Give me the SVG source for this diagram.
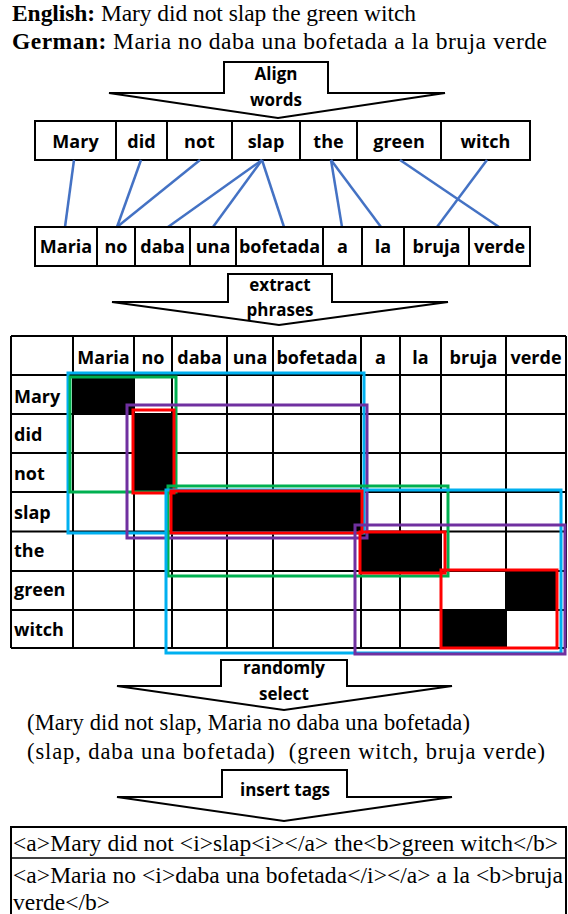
<svg xmlns="http://www.w3.org/2000/svg" width="568" height="914" viewBox="0 0 568 914">
  <style>
    .serif { font-family: "Liberation Serif", "Times New Roman", serif; font-size: 22.5px; fill: #000; white-space: pre; }
    .head { font-size: 23.5px; }
    .lbl { font-family: "Open Sans", "Liberation Sans", sans-serif; font-weight: 700; font-size: 18px; fill: #000; }
    .alab { font-family: "Open Sans", "Liberation Sans", sans-serif; font-weight: 700; font-size: 17px; fill: #000; text-anchor: middle; }
    .mid { text-anchor: middle; }
    .box { fill: #fff; stroke: #000; stroke-width: 2; }
    .arrow { fill: #fff; stroke: #000; stroke-width: 2; stroke-linejoin: miter; }
    .align { stroke: #4472C4; stroke-width: 2.5; fill: none; }
    .grid { stroke: #000; stroke-width: 2; fill: none; }
    .cell { fill: #000; }
    .span { fill: none; stroke-width: 3; }
    .blue { stroke: #00B0F0; }
    .green { stroke: #00B050; }
    .purple { stroke: #7030A0; }
    .red { stroke: #FF0000; }
  </style>

  <!-- sentence pair -->
  <g id="sentences">
    <text class="serif head" x="12" y="21" textLength="404" lengthAdjust="spacing"><tspan font-weight="700">English:</tspan> Mary did not slap the green witch</text>
    <text class="serif head" x="12" y="49" textLength="535" lengthAdjust="spacing"><tspan font-weight="700">German:</tspan> Maria no daba una bofetada a la bruja verde</text>
  </g>

  <!-- step arrow: align words -->
  <g id="step-align">
    <path class="arrow" d="M109,93 L224,93 L224,62 L328,62 L328,93 L445,93 L278,118 Z"/>
    <text class="alab" x="276" y="80">Align</text>
    <text class="alab" x="276" y="106">words</text>
  </g>

  <!-- English tokens -->
  <g id="english-tokens">
    <rect class="box" x="35" y="121" width="495" height="39"/>
    <path class="grid" d="M116,121V160 M167,121V160 M232,121V160 M300,121V160 M357,121V160 M441,121V160"/>
    <g class="lbl mid">
      <text x="75.5" y="148">Mary</text>
      <text x="141.5" y="148">did</text>
      <text x="199.5" y="148">not</text>
      <text x="266" y="148">slap</text>
      <text x="328.5" y="148">the</text>
      <text x="399" y="148">green</text>
      <text x="485.5" y="148">witch</text>
    </g>
  </g>

  <!-- word alignment links -->
  <g id="alignment-links" class="align">
    <line x1="74" y1="160" x2="65" y2="227"/>
    <line x1="141" y1="160" x2="117" y2="227"/>
    <line x1="200" y1="160" x2="117" y2="227"/>
    <line x1="262" y1="160" x2="168" y2="227"/>
    <line x1="262" y1="160" x2="213" y2="227"/>
    <line x1="262" y1="160" x2="284" y2="227"/>
    <line x1="331" y1="160" x2="342" y2="227"/>
    <line x1="331" y1="160" x2="381" y2="227"/>
    <line x1="400" y1="160" x2="499" y2="227"/>
    <line x1="487" y1="160" x2="437" y2="227"/>
  </g>

  <!-- Spanish tokens -->
  <g id="spanish-tokens">
    <rect class="box" x="35" y="227" width="495" height="39"/>
    <path class="grid" d="M97,227V266 M135,227V266 M190,227V266 M236,227V266 M323,227V266 M362,227V266 M404,227V266 M469,227V266"/>
    <g class="lbl mid">
      <text x="66" y="253">Maria</text>
      <text x="116" y="253">no</text>
      <text x="162.5" y="253">daba</text>
      <text x="213" y="253">una</text>
      <text x="279.5" y="253">bofetada</text>
      <text x="342.5" y="253">a</text>
      <text x="383" y="253">la</text>
      <text x="436.5" y="253">bruja</text>
      <text x="499.5" y="253">verde</text>
    </g>
  </g>

  <!-- step arrow: extract phrases -->
  <g id="step-extract">
    <path class="arrow" d="M112,302 L228,302 L228,274 L332,274 L332,302 L448,302 L279,325 Z"/>
    <text class="alab" x="280" y="291">extract</text>
    <text class="alab" x="280" y="316">phrases</text>
  </g>

  <!-- alignment matrix -->
  <g id="matrix">
    <rect x="11" y="336" width="555" height="312" fill="#fff"/>
    <g id="matrix-cells">
      <rect class="cell" x="73" y="375" width="61" height="39"/>
      <rect class="cell" x="134" y="414" width="38" height="78"/>
      <rect class="cell" x="172" y="492" width="189" height="39.5"/>
      <rect class="cell" x="361" y="531.5" width="80" height="39.5"/>
      <rect class="cell" x="506" y="571" width="51" height="39"/>
      <rect class="cell" x="441" y="610" width="65" height="38"/>
    </g>
    <path class="grid" d="M11,336H566 M11,375H566 M11,414H566 M11,453H566 M11,492H566 M11,531.5H566 M11,571H566 M11,610H566 M11,648H566
      M11,336V648 M73,336V648 M134,336V648 M172,336V648 M227,336V648 M273,336V648 M361,336V648 M400,336V648 M441,336V648 M506,336V648 M566,336V648"/>
    <g class="lbl mid">
      <text x="103.5" y="364">Maria</text>
      <text x="153" y="364">no</text>
      <text x="199.5" y="364">daba</text>
      <text x="250" y="364">una</text>
      <text x="317" y="364">bofetada</text>
      <text x="380.5" y="364">a</text>
      <text x="420.5" y="364">la</text>
      <text x="473.5" y="364">bruja</text>
      <text x="536" y="364">verde</text>
    </g>
    <g class="lbl">
      <text x="14" y="403">Mary</text>
      <text x="14" y="441">did</text>
      <text x="14" y="480">not</text>
      <text x="14" y="519">slap</text>
      <text x="14" y="557">the</text>
      <text x="14" y="596">green</text>
      <text x="14" y="636">witch</text>
    </g>
  </g>

  <!-- extracted phrase spans -->
  <g id="phrase-spans">
    <rect class="span blue" x="68" y="373" width="296" height="160"/>
    <rect class="span green" x="70" y="377" width="106" height="115"/>
    <rect class="span purple" x="127" y="405" width="240" height="133"/>
    <rect class="span red" x="133" y="410" width="41" height="83"/>
    <rect class="span green" x="168" y="486" width="280" height="90"/>
    <rect class="span blue" x="166" y="490" width="395" height="163"/>
    <rect class="span red" x="171" y="491" width="191" height="42" stroke-width="2"/>
    <rect class="span purple" x="355" y="525" width="210" height="129"/>
    <rect class="span red" x="360" y="532" width="85" height="41"/>
    <rect class="span red" x="441" y="570" width="116" height="78"/>
  </g>

  <!-- step arrow: randomly select -->
  <g id="step-select">
    <path class="arrow" d="M117,686 L221,686 L221,660 L347,660 L347,686 L452,686 L284,710 Z"/>
    <text class="alab" x="284" y="674">randomly</text>
    <text class="alab" x="284" y="700">select</text>
  </g>

  <!-- selected phrase pairs -->
  <g id="selected-pairs">
    <text class="serif" x="27" y="730" textLength="443" lengthAdjust="spacing">(Mary did not slap, Maria no daba una bofetada)</text>
    <text class="serif" x="27" y="759" textLength="518" lengthAdjust="spacing">(slap, daba una bofetada)  (green witch, bruja verde)</text>
  </g>

  <!-- step arrow: insert tags -->
  <g id="step-tags">
    <path class="arrow" d="M117,797 L222,797 L222,770 L347,770 L347,797 L452,797 L284,821 Z"/>
    <text class="alab" x="285" y="796">insert tags</text>
  </g>

  <!-- tagged sentence pair -->
  <g id="tagged-output">
    <rect class="box" x="11" y="827" width="555" height="100" stroke-width="1.5"/>
    <line x1="11" y1="858" x2="566" y2="858" stroke="#000" stroke-width="1.5"/>
    <text class="serif head" x="13" y="851" textLength="545" lengthAdjust="spacing">&lt;a&gt;Mary did not &lt;i&gt;slap&lt;i&gt;&lt;/a&gt; the&lt;b&gt;green witch&lt;/b&gt;</text>
    <text class="serif head" x="13" y="883" textLength="550" lengthAdjust="spacing">&lt;a&gt;Maria no &lt;i&gt;daba una bofetada&lt;/i&gt;&lt;/a&gt; a la &lt;b&gt;bruja</text>
    <text class="serif head" x="13" y="910">verde&lt;/b&gt;</text>
  </g>
</svg>
